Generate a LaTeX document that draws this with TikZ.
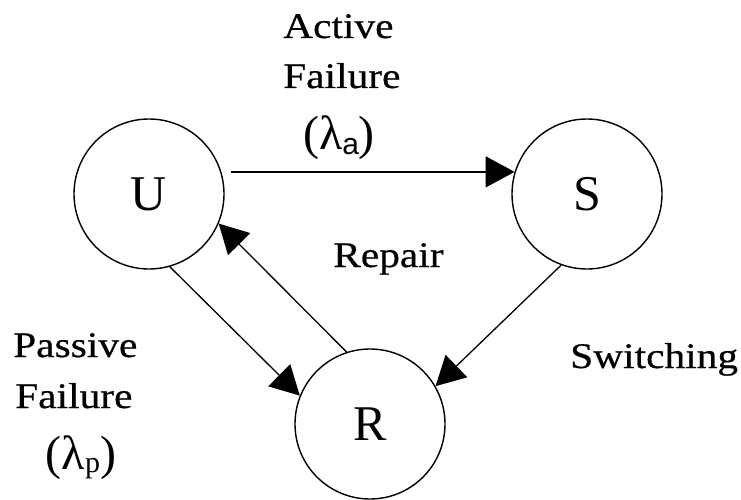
\documentclass[tikz,border=0pt]{standalone}
\usepackage{fontspec}
\setmainfont[FakeStretch=1.15,FakeBold=0.5]{Liberation Serif}
\newfontfamily\statefont{Liberation Serif}
\newfontfamily\subsans{Liberation Sans}
\usetikzlibrary{arrows.meta}

\begin{document}
\begin{tikzpicture}[x=1pt,y=1pt,
  state/.style={circle, draw, line width=1.4pt, minimum size=150pt, inner sep=0pt,
                font=\statefont\fontsize{50}{50}\selectfont},
  trans/.style={line width=1.3pt, -{Triangle[length=29pt,width=31pt]}},
  lbl/.style={inner sep=0pt, font=\fontsize{36}{40}\selectfont},
  rate/.style={inner sep=0pt, font=\statefont\fontsize{48}{50}\selectfont}]

  % canvas
  \useasboundingbox (0,0) rectangle (741,499);
  \fill[white] (0,0) rectangle (741,499);

  % states
  \node[state] (U) at (149,305) {U};
  \node[state] (S) at (587,305) {S};
  \node[state] (R) at (370,75)  {R};

  % transitions
  \draw[trans] ([xshift=10pt]U.17) -- (S.163);
  \draw[trans] (U.-74) -- (R.158);
  \draw[trans] (R.108) -- (U.-23);
  \draw[trans] (S.250) -- (R.30);

  % transition labels
  \node[lbl, anchor=base west] (act1) at (283,461) {Active};
  \node[lbl, anchor=base west] (act2) at (283,411) {Failure};
  \node[rate, anchor=base] (lama) at (339,349)
    {(λ\raisebox{-5pt}{\subsans\fontsize{30}{30}\selectfont a})};

  \node[lbl, anchor=base west] (rep) at (333,232) {Repair};
  \node[lbl, anchor=base west] (sw) at (570,131) {Switching};

  \node[lbl, anchor=base west] (pas1) at (13,142) {Passive};
  \node[lbl, anchor=base west] (pas2) at (15,91) {Failure};
  \node[rate, anchor=base] (lamp) at (81,30)
    {(λ\raisebox{-3pt}{\fontsize{30}{30}\selectfont p})};
\end{tikzpicture}
\end{document}
